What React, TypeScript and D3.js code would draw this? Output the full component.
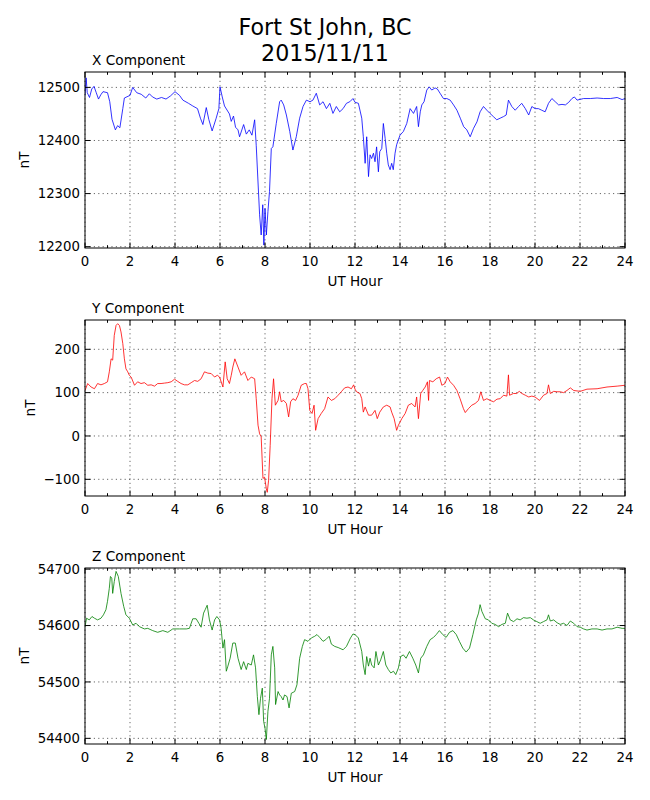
import * as d3 from "d3";

// magnetometer readings, [UT hour, nT]
const xComponent: [number, number][] = [
  [0, 12485], [0.05, 12518], [0.1, 12490], [0.2, 12481], [0.3, 12497], [0.4, 12502], [0.5, 12490],
  [0.6, 12478], [0.7, 12486], [0.8, 12492], [1.0, 12490], [1.1, 12473], [1.2, 12440], [1.35, 12420],
  [1.45, 12428], [1.55, 12424], [1.68, 12460], [1.75, 12480], [2.0, 12485], [2.12, 12500], [2.3, 12490],
  [2.5, 12487], [2.7, 12480], [2.86, 12488], [3.0, 12482], [3.19, 12478], [3.4, 12481], [3.6, 12478],
  [3.8, 12484], [4.0, 12492], [4.2, 12485], [4.35, 12476], [4.6, 12470], [4.79, 12465], [5.0, 12460],
  [5.13, 12442], [5.24, 12430], [5.39, 12462], [5.5, 12440], [5.65, 12418], [5.83, 12442], [5.95, 12460],
  [6.0, 12501], [6.1, 12482], [6.2, 12465], [6.42, 12450], [6.5, 12436], [6.6, 12446], [6.69, 12425],
  [6.8, 12420], [6.87, 12407], [7.05, 12430], [7.17, 12412], [7.3, 12420], [7.42, 12410], [7.54, 12439],
  [7.61, 12391], [7.76, 12260], [7.83, 12222], [7.9, 12279], [7.95, 12203], [8.0, 12272], [8.06, 12222],
  [8.13, 12266], [8.2, 12304], [8.28, 12385], [8.35, 12388], [8.5, 12432], [8.65, 12473], [8.72, 12476],
  [8.83, 12467], [8.95, 12448], [9.1, 12417], [9.24, 12382], [9.39, 12407], [9.54, 12442], [9.69, 12464],
  [9.84, 12476], [10.0, 12473], [10.13, 12476], [10.28, 12489], [10.43, 12467], [10.58, 12473],
  [10.73, 12460], [10.88, 12470], [11.02, 12451], [11.17, 12464], [11.32, 12454], [11.47, 12460],
  [11.62, 12470], [11.77, 12473], [11.91, 12479], [12.0, 12472], [12.15, 12470], [12.3, 12442],
  [12.37, 12407], [12.45, 12357], [12.52, 12407], [12.6, 12332], [12.67, 12373], [12.74, 12366],
  [12.82, 12376], [12.89, 12360], [12.96, 12388], [13.04, 12341], [13.1, 12379], [13.19, 12385],
  [13.26, 12432], [13.34, 12404], [13.41, 12376], [13.48, 12354], [13.56, 12345], [13.63, 12357],
  [13.7, 12345], [13.78, 12376], [13.85, 12392], [14.0, 12410], [14.15, 12417], [14.3, 12432],
  [14.45, 12460], [14.6, 12451], [14.74, 12464], [14.82, 12426], [14.9, 12454], [14.97, 12467],
  [15.07, 12473], [15.19, 12495], [15.3, 12501], [15.41, 12495], [15.56, 12499], [15.66, 12497],
  [15.78, 12489], [15.93, 12479], [16.08, 12479], [16.23, 12476], [16.38, 12467], [16.53, 12457],
  [16.68, 12442], [16.83, 12426], [16.97, 12420], [17.12, 12407], [17.27, 12423], [17.42, 12435],
  [17.56, 12454], [17.71, 12464], [17.86, 12457], [18.0, 12451], [18.15, 12445], [18.3, 12439],
  [18.45, 12442], [18.6, 12445], [18.72, 12448], [18.82, 12476], [18.97, 12464], [19.12, 12457],
  [19.27, 12464], [19.41, 12470], [19.57, 12460], [19.72, 12448], [19.86, 12464], [20.0, 12460],
  [20.15, 12460], [20.3, 12457], [20.45, 12454], [20.6, 12470], [20.75, 12479], [20.9, 12473],
  [21.05, 12467], [21.2, 12468], [21.35, 12467], [21.5, 12472], [21.64, 12479], [21.75, 12482],
  [21.87, 12476], [22.16, 12479], [22.46, 12479], [22.76, 12480], [23.05, 12479], [23.35, 12479],
  [23.65, 12481], [23.87, 12477], [24.0, 12479],
];

const yComponent: [number, number][] = [
  [0, 105], [0.12, 121], [0.27, 113], [0.42, 109], [0.56, 121], [0.71, 118], [0.86, 121], [1.0, 125],
  [1.08, 148], [1.16, 178], [1.23, 175], [1.3, 232], [1.38, 255], [1.45, 259], [1.53, 255], [1.6, 240],
  [1.68, 213], [1.75, 178], [1.82, 155], [1.9, 148], [1.97, 140], [2.05, 136], [2.2, 117], [2.34, 125],
  [2.49, 121], [2.64, 123], [2.79, 117], [2.94, 118], [3.09, 115], [3.23, 121], [3.38, 121], [3.53, 122],
  [3.68, 123], [3.83, 125], [3.98, 131], [4.12, 126], [4.27, 121], [4.42, 118], [4.57, 118], [4.72, 123],
  [4.87, 128], [5.01, 126], [5.16, 132], [5.31, 148], [5.46, 145], [5.61, 144], [5.76, 136], [5.88, 140],
  [5.98, 136], [6.13, 113], [6.23, 171], [6.32, 132], [6.42, 121], [6.5, 140], [6.57, 159], [6.66, 178],
  [6.8, 159], [6.94, 140], [7.09, 148], [7.24, 128], [7.39, 136], [7.54, 132], [7.61, 86], [7.69, 25],
  [7.76, 5], [7.83, -2], [7.91, -98], [7.98, -95], [8.06, -122], [8.1, -130], [8.16, -102], [8.23, -22],
  [8.31, 86], [8.38, 132], [8.46, 71], [8.58, 82], [8.65, 102], [8.72, 79], [8.83, 82], [8.95, 75],
  [9.05, 44], [9.14, 79], [9.24, 86], [9.36, 82], [9.47, 94], [9.61, 117], [9.76, 121], [9.84, 121],
  [9.91, 109], [9.99, 59], [10.09, 52], [10.18, 71], [10.25, 13], [10.36, 40], [10.5, 52], [10.65, 63],
  [10.8, 90], [10.95, 82], [11.1, 86], [11.25, 94], [11.39, 102], [11.54, 111], [11.69, 113],
  [11.84, 109], [11.94, 118], [12.0, 108], [12.07, 102], [12.22, 98], [12.3, 86], [12.37, 55],
  [12.45, 67], [12.6, 48], [12.74, 48], [12.89, 59], [12.99, 40], [13.1, 55], [13.26, 67], [13.41, 71],
  [13.56, 67], [13.63, 55], [13.74, 40], [13.85, 13], [13.93, 25], [14.08, 40], [14.23, 52], [14.37, 71],
  [14.52, 75], [14.67, 67], [14.74, 90], [14.82, 40], [14.92, 98], [15.01, 105], [15.12, 113],
  [15.22, 125], [15.27, 82], [15.31, 128], [15.46, 125], [15.61, 132], [15.76, 136], [15.86, 117],
  [16.0, 121], [16.11, 136], [16.23, 125], [16.38, 117], [16.53, 105], [16.67, 86], [16.82, 63],
  [16.9, 54], [17.04, 63], [17.19, 71], [17.34, 75], [17.49, 82], [17.59, 102], [17.71, 82], [17.86, 86],
  [18.0, 82], [18.16, 79], [18.31, 85], [18.45, 86], [18.6, 94], [18.75, 92], [18.82, 141], [18.87, 94],
  [19.04, 98], [19.19, 98], [19.3, 103], [19.42, 98], [19.57, 94], [19.72, 90], [19.86, 92], [20.0, 90],
  [20.2, 82], [20.38, 94], [20.53, 98], [20.6, 118], [20.68, 98], [20.83, 103], [20.98, 102],
  [21.12, 102], [21.27, 100], [21.42, 105], [21.57, 111], [21.72, 105], [22.01, 103], [22.31, 108],
  [22.76, 109], [23.2, 113], [23.65, 115], [24.0, 117],
];

const zComponent: [number, number][] = [
  [0, 54598], [0.07, 54613], [0.19, 54610], [0.31, 54616], [0.42, 54613], [0.56, 54610], [0.71, 54613],
  [0.82, 54619], [0.93, 54628], [1.0, 54643], [1.08, 54666], [1.13, 54687], [1.19, 54684], [1.23, 54657],
  [1.3, 54678], [1.38, 54696], [1.48, 54687], [1.6, 54657], [1.72, 54634], [1.82, 54619], [1.97, 54613],
  [2.12, 54601], [2.27, 54604], [2.42, 54598], [2.64, 54594], [2.79, 54595], [3.01, 54591], [3.23, 54588],
  [3.46, 54591], [3.68, 54588], [3.9, 54594], [4.2, 54594], [4.5, 54594], [4.64, 54595], [4.79, 54612],
  [4.94, 54612], [5.06, 54604], [5.16, 54597], [5.27, 54622], [5.34, 54628], [5.43, 54636], [5.53, 54610],
  [5.65, 54592], [5.76, 54610], [5.86, 54616], [5.98, 54610], [6.05, 54595], [6.13, 54560], [6.2, 54575],
  [6.28, 54519], [6.35, 54528], [6.45, 54542], [6.57, 54569], [6.68, 54569], [6.8, 54542], [6.94, 54522],
  [7.05, 54536], [7.17, 54522], [7.24, 54533], [7.39, 54530], [7.49, 54548], [7.58, 54525], [7.66, 54474],
  [7.73, 54442], [7.8, 54471], [7.88, 54489], [7.94, 54430], [8.0, 54418], [8.06, 54398], [8.13, 54448],
  [8.2, 54471], [8.28, 54548], [8.35, 54563], [8.43, 54525], [8.47, 54460], [8.58, 54483], [8.65, 54477],
  [8.72, 54474], [8.8, 54468], [8.87, 54477], [8.98, 54474], [9.07, 54454], [9.17, 54480], [9.32, 54483],
  [9.42, 54495], [9.54, 54542], [9.66, 54563], [9.76, 54575], [9.91, 54572], [10.06, 54578], [10.21, 54581],
  [10.31, 54584], [10.43, 54579], [10.58, 54572], [10.7, 54575], [10.85, 54581], [10.95, 54567],
  [11.1, 54563], [11.25, 54561], [11.47, 54557], [11.62, 54563], [11.8, 54578], [11.91, 54585],
  [12.0, 54584], [12.15, 54578], [12.3, 54554], [12.37, 54530], [12.45, 54513], [12.52, 54545],
  [12.6, 54528], [12.67, 54542], [12.74, 54530], [12.85, 54525], [12.93, 54554], [13.04, 54530],
  [13.14, 54539], [13.26, 54554], [13.37, 54530], [13.48, 54522], [13.59, 54516], [13.71, 54519],
  [13.81, 54513], [13.93, 54525], [14.03, 54545], [14.15, 54548], [14.27, 54542], [14.42, 54554],
  [14.57, 54542], [14.7, 54530], [14.82, 54516], [14.92, 54542], [15.04, 54548], [15.19, 54563],
  [15.34, 54575], [15.49, 54579], [15.61, 54584], [15.75, 54591], [15.9, 54584], [16.05, 54579],
  [16.2, 54588], [16.35, 54591], [16.5, 54584], [16.64, 54572], [16.79, 54560], [16.94, 54553],
  [17.09, 54560], [17.24, 54584], [17.39, 54610], [17.49, 54622], [17.56, 54637], [17.64, 54625],
  [17.79, 54612], [17.93, 54610], [18.08, 54604], [18.23, 54602], [18.38, 54598], [18.53, 54602],
  [18.68, 54604], [18.78, 54622], [18.9, 54610], [19.05, 54607], [19.2, 54612], [19.34, 54610],
  [19.49, 54614], [19.64, 54613], [19.79, 54614], [19.93, 54610], [20.08, 54607], [20.23, 54604],
  [20.38, 54607], [20.53, 54610], [20.6, 54619], [20.68, 54608], [20.83, 54610], [20.98, 54605],
  [21.12, 54602], [21.27, 54604], [21.42, 54600], [21.57, 54608], [21.72, 54604], [21.87, 54598],
  [22.01, 54597], [22.16, 54594], [22.31, 54592], [22.53, 54594], [22.76, 54594], [22.98, 54592],
  [23.2, 54594], [23.42, 54594], [23.65, 54597], [23.87, 54595], [24.0, 54595],
];

const hourTicks = [0, 2, 4, 6, 8, 10, 12, 14, 16, 18, 20, 22, 24];
const hourMinorTicks = [1, 3, 5, 7, 9, 11, 13, 15, 17, 19, 21, 23];
const xTicks = [12200, 12300, 12400, 12500];
const yTicks = [-100, 0, 100, 200];
const zTicks = [54400, 54500, 54600, 54700];

const W = 650;
const H = 800;
const left = 85;
const right = 625;
const panelH = 176;
const font = "DejaVu Sans, sans-serif";

const panels = [
  { name: "X Component", data: xComponent, color: "#0000ff", domain: [12197.5, 12529], ticks: xTicks, top: 72, labelX: 28.5 },
  { name: "Y Component", data: yComponent, color: "#ff0000", domain: [-138.5, 267.6], ticks: yTicks, top: 320, labelX: 34.5 },
  { name: "Z Component", data: zComponent, color: "#008000", domain: [54390, 54702], ticks: zTicks, top: 568, labelX: 28.5 },
];

const fmt = d3.format("d");

function Panel({ p, idx }: { p: typeof panels[number]; idx: number }) {
  const x = d3.scaleLinear().domain([0, 24]).range([left, right]);
  const y = d3.scaleLinear().domain(p.domain).range([p.top + panelH, p.top]);
  const line = d3.line<[number, number]>().x((d) => x(d[0])).y((d) => y(d[1]));
  const bottom = p.top + panelH;
  const clipId = `clip-${idx}`;
  return (
    <g>
      <clipPath id={clipId}>
        <rect x={left} y={p.top} width={right - left} height={panelH} />
      </clipPath>
      {/* dotted grid */}
      {hourTicks.map((t) => (
        <line key={"gx" + t} x1={x(t)} x2={x(t)} y1={p.top} y2={bottom} stroke="#000" strokeWidth={0.6} strokeDasharray="1.2,3.2" />
      ))}
      {p.ticks.map((t) => (
        <line key={"gy" + t} x1={left} x2={right} y1={y(t)} y2={y(t)} stroke="#000" strokeWidth={0.6} strokeDasharray="1.2,3.2" />
      ))}
      <path d={line(p.data) ?? ""} fill="none" stroke={p.color} strokeWidth={0.8} clipPath={`url(#${clipId})`} />
      {/* inward ticks on all four sides */}
      {hourTicks.map((t) => (
        <g key={"tx" + t}>
          <line x1={x(t)} x2={x(t)} y1={bottom} y2={bottom - 5.5} stroke="#000" />
          <line x1={x(t)} x2={x(t)} y1={p.top} y2={p.top + 5.5} stroke="#000" />
          <text x={x(t)} y={bottom + 18} textAnchor="middle" fontSize={13.3} fontFamily={font}>{fmt(t)}</text>
        </g>
      ))}
      {hourMinorTicks.map((t) => (
        <g key={"mx" + t}>
          <line x1={x(t)} x2={x(t)} y1={bottom} y2={bottom - 2.8} stroke="#000" />
          <line x1={x(t)} x2={x(t)} y1={p.top} y2={p.top + 2.8} stroke="#000" />
        </g>
      ))}
      {p.ticks.map((t) => (
        <g key={"ty" + t}>
          <line x1={left} x2={left + 5.5} y1={y(t)} y2={y(t)} stroke="#000" />
          <line x1={right} x2={right - 5.5} y1={y(t)} y2={y(t)} stroke="#000" />
          <text x={left - 5} y={y(t)} dy="0.36em" textAnchor="end" fontSize={13.3} fontFamily={font}>{d3.format("d")(t).replace("-", "\u2212")}</text>
        </g>
      ))}
      <rect x={left} y={p.top} width={right - left} height={panelH} fill="none" stroke="#000" strokeWidth={1} />
      <text x={92} y={p.top - 7.5} fontSize={13.7} fontFamily={font}>{p.name}</text>
      <text x={(left + right) / 2} y={bottom + 38} textAnchor="middle" fontSize={13.5} fontFamily={font}>UT Hour</text>
      <text transform={`translate(${p.labelX},${(p.top + bottom) / 2}) rotate(-90)`} textAnchor="middle" fontSize={13.5} fontFamily={font}>nT</text>
    </g>
  );
}

export default function App() {
  return (
    <svg width={W} height={H} style={{ position: "absolute", left: 0, top: 0, background: "#fff" }}>
      <rect width={W} height={H} fill="#fff" />
      <text x={W / 2} y={34.5} textAnchor="middle" fontSize={22.2} fontFamily={font}>Fort St John, BC</text>
      <text x={W / 2} y={61} textAnchor="middle" fontSize={22.2} fontFamily={font}>2015/11/11</text>
      {panels.map((p, i) => (
        <Panel key={p.name} p={p} idx={i} />
      ))}
    </svg>
  );
}
